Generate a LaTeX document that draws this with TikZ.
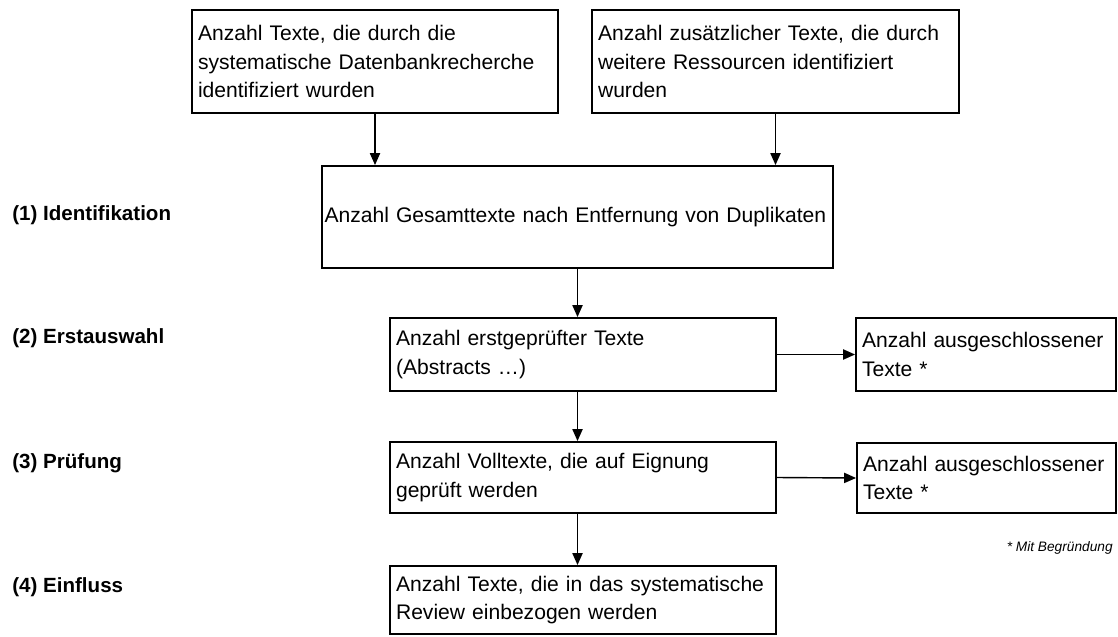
\documentclass[tikz,border=0pt]{standalone}
\usepackage{fontspec}
\setmainfont{Liberation Sans}
\usetikzlibrary{arrows.meta,positioning}
\begin{document}
\begin{tikzpicture}[
        x=0.02cm, y=-0.02cm,
        stage/.style={draw, line width=1.1pt, align=left, inner xsep=0.12cm,
            font=\fontsize{12pt}{16.2pt}\selectfont},
        phase/.style={anchor=west, inner xsep=0pt, font=\bfseries\fontsize{11.7pt}{14pt}\selectfont},
        flow/.style={-{Triangle[length=6.8pt,width=5.8pt]}, line width=0.8pt},
    ]
    \useasboundingbox (0,0) rectangle (1118,636);

    % Quellen
    \node[stage, text width=7.08cm, minimum height=2.06cm] (db) at (375,61.5)
        {Anzahl Texte, die durch die\\systematische Datenbankrecherche\\identifiziert wurden};
    \node[stage, text width=7.10cm, minimum height=2.06cm] (extra) at (775.5,61.5)
        {Anzahl zusätzlicher Texte, die durch\\weitere Ressourcen identifiziert\\wurden};

    % Ablauf
    \node[stage, inner xsep=0.05cm, text width=10.12cm, minimum height=2.04cm] (total) at (577.5,217)
        {Anzahl Gesamttexte nach Entfernung von Duplikaten};
    \node[stage, text width=7.48cm, minimum height=1.46cm] (screen) at (583,354.5)
        {Anzahl erstgeprüfter Texte\\(Abstracts \dots)};
    \node[stage, text width=7.48cm, minimum height=1.42cm] (full) at (583,477.5)
        {Anzahl Volltexte, die auf Eignung\\geprüft werden};
    \node[stage, text width=7.48cm, minimum height=1.36cm] (incl) at (583,600)
        {Anzahl Texte, die in das systematische\\Review einbezogen werden};

    % Ausschluss
    \node[stage, text width=4.96cm, minimum height=1.46cm] (excla) at (986,354.5)
        {Anzahl ausgeschlossener\\Texte *};
    \node[stage, text width=4.94cm, minimum height=1.40cm] (exclb) at (986.5,478)
        {Anzahl ausgeschlossener\\Texte *};
    \node[anchor=east, inner xsep=0pt, font=\itshape\fontsize{7.8pt}{9pt}\selectfont] (note) at (1113,548)
        {* Mit Begründung};

    % Phasen
    \foreach \y/\t [count=\i] in {215/{(1) Identifikation}, 338/{(2) Erstauswahl},
            463/{(3) Prüfung}, 587/{(4) Einfluss}}
        \node[phase] (phase\i) at (12,\y) {\t};

    \draw[flow] (db.south) -- (db.south |- total.north);
    \draw[flow] (extra.south) -- (extra.south |- total.north);
    \draw[flow] (total.south) -- (total.south |- screen.north);
    \draw[flow] (total.south |- screen.south) -- (total.south |- full.north);
    \draw[flow] (total.south |- full.south) -- (total.south |- incl.north);
    \draw[flow] (screen.east) -- (excla.west);
    \draw[flow] (full.east) -- (exclb.west);
\end{tikzpicture}
\end{document}
